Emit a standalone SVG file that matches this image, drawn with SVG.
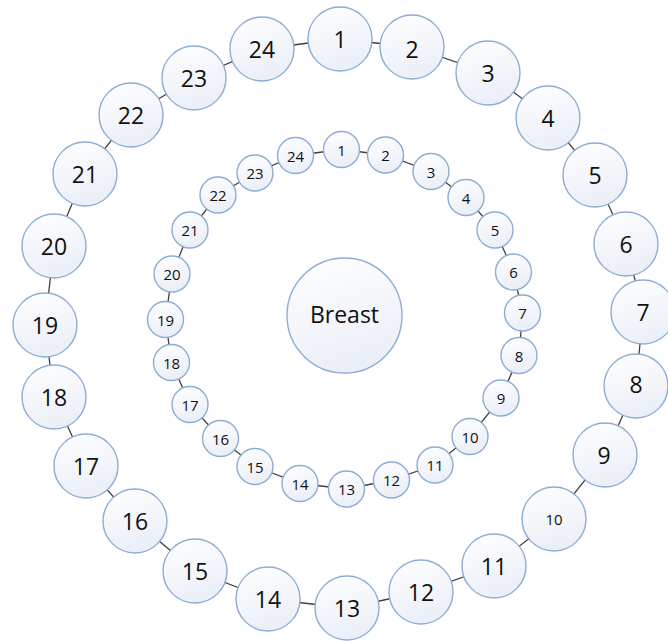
<svg xmlns="http://www.w3.org/2000/svg" width="668" height="641" viewBox="0 0 668 641">
<defs>
<linearGradient id="g" x1="0" y1="0" x2="0.3" y2="1">
<stop offset="0" stop-color="#ffffff"/>
<stop offset="1" stop-color="#ebeff7"/>
</linearGradient>
</defs>
<style>
.n circle{fill:url(#g);stroke:#8cadd4;stroke-width:1.4}
.n text{font-family:"Open Sans","Liberation Sans",sans-serif;fill:#111111;text-anchor:middle;dominant-baseline:central}
.o text{font-size:23px}
.i text{font-size:15px}
.c path{fill:none;stroke:#404040;stroke-width:1.3}
</style>
<rect width="668" height="641" fill="#ffffff"/>
<g id="connectors" class="c">
<path d="M340,39 L412,47 L488,73 L548,118 L595,175 L626,244 L643,312 L636,386 L605,455 L554,519 L494,566 L421,592 L347,608 L268,599 L195,571 L135,521 L86,466 L54,397 L45,325 L54,246 L85,174 L131,115 L194,78 L262,49 Z"/>
<path d="M341.5,149.5 L385.5,155 L431,171.5 L466,197.5 L495,230 L513.5,272 L522.5,313 L519,355.5 L501,398 L470,436.5 L435,465 L391.5,480 L346.5,489 L300,483.5 L255,466.5 L220.5,438.5 L190,404.5 L171.5,362.5 L165.5,319.5 L172,274 L190,230 L218,195 L255,173 L295.5,155.5 Z"/>
</g>
<g id="breast" class="n"><circle cx="344.5" cy="315.5" r="57.5"/><text x="344.5" y="314" style="font-size:23px">Breast</text></g>
<g id="o1" class="n o"><circle cx="340" cy="39" r="32"/><text x="340" y="39">1</text></g>
<g id="o2" class="n o"><circle cx="412" cy="47" r="32"/><text x="412" y="49">2</text></g>
<g id="o3" class="n o"><circle cx="488" cy="73" r="32"/><text x="488" y="73">3</text></g>
<g id="o4" class="n o"><circle cx="548" cy="118" r="32"/><text x="548" y="118">4</text></g>
<g id="o5" class="n o"><circle cx="595" cy="175" r="32"/><text x="595" y="175">5</text></g>
<g id="o6" class="n o"><circle cx="626" cy="244" r="32"/><text x="626" y="244">6</text></g>
<g id="o7" class="n o"><circle cx="643" cy="312" r="32"/><text x="643" y="312">7</text></g>
<g id="o8" class="n o"><circle cx="636" cy="386" r="32"/><text x="636" y="384">8</text></g>
<g id="o9" class="n o"><circle cx="605" cy="455" r="32"/><text x="604" y="455">9</text></g>
<g id="o10" class="n o"><circle cx="554" cy="519" r="32"/><text x="554" y="519" style="font-size:15px">10</text></g>
<g id="o11" class="n o"><circle cx="494" cy="566" r="32"/><text x="494" y="566">11</text></g>
<g id="o12" class="n o"><circle cx="421" cy="592" r="32"/><text x="421" y="592">12</text></g>
<g id="o13" class="n o"><circle cx="347" cy="608" r="32"/><text x="347" y="608">13</text></g>
<g id="o14" class="n o"><circle cx="268" cy="599" r="32"/><text x="268" y="599">14</text></g>
<g id="o15" class="n o"><circle cx="195" cy="571" r="32"/><text x="195" y="571">15</text></g>
<g id="o16" class="n o"><circle cx="135" cy="521" r="32"/><text x="135" y="521">16</text></g>
<g id="o17" class="n o"><circle cx="86" cy="466" r="32"/><text x="86" y="466">17</text></g>
<g id="o18" class="n o"><circle cx="54" cy="397" r="32"/><text x="54" y="397">18</text></g>
<g id="o19" class="n o"><circle cx="45" cy="325" r="32"/><text x="45" y="325">19</text></g>
<g id="o20" class="n o"><circle cx="54" cy="246" r="32"/><text x="54" y="246">20</text></g>
<g id="o21" class="n o"><circle cx="85" cy="174" r="32"/><text x="85" y="174">21</text></g>
<g id="o22" class="n o"><circle cx="131" cy="115" r="32"/><text x="131" y="115">22</text></g>
<g id="o23" class="n o"><circle cx="194" cy="78" r="32"/><text x="194" y="78">23</text></g>
<g id="o24" class="n o"><circle cx="262" cy="49" r="32"/><text x="262" y="49">24</text></g>
<g id="i1" class="n i"><circle cx="341.5" cy="149.5" r="18"/><text x="341.5" y="149.5">1</text></g>
<g id="i2" class="n i"><circle cx="385.5" cy="155" r="18"/><text x="385.5" y="155">2</text></g>
<g id="i3" class="n i"><circle cx="431" cy="171.5" r="18"/><text x="431" y="171.5">3</text></g>
<g id="i4" class="n i"><circle cx="466" cy="197.5" r="18"/><text x="466" y="197.5">4</text></g>
<g id="i5" class="n i"><circle cx="495" cy="230" r="18"/><text x="495" y="230">5</text></g>
<g id="i6" class="n i"><circle cx="513.5" cy="272" r="18"/><text x="513.5" y="272">6</text></g>
<g id="i7" class="n i"><circle cx="522.5" cy="313" r="18"/><text x="522.5" y="313">7</text></g>
<g id="i8" class="n i"><circle cx="519" cy="355.5" r="18"/><text x="519" y="355.5">8</text></g>
<g id="i9" class="n i"><circle cx="501" cy="398" r="18"/><text x="501" y="398">9</text></g>
<g id="i10" class="n i"><circle cx="470" cy="436.5" r="18"/><text x="470" y="436.5">10</text></g>
<g id="i11" class="n i"><circle cx="435" cy="465" r="18"/><text x="435" y="465">11</text></g>
<g id="i12" class="n i"><circle cx="391.5" cy="480" r="18"/><text x="391.5" y="480">12</text></g>
<g id="i13" class="n i"><circle cx="346.5" cy="489" r="18"/><text x="346.5" y="489">13</text></g>
<g id="i14" class="n i"><circle cx="300" cy="483.5" r="18"/><text x="300" y="483.5">14</text></g>
<g id="i15" class="n i"><circle cx="255" cy="466.5" r="18"/><text x="255" y="466.5">15</text></g>
<g id="i16" class="n i"><circle cx="220.5" cy="438.5" r="18"/><text x="220.5" y="438.5">16</text></g>
<g id="i17" class="n i"><circle cx="190" cy="404.5" r="18"/><text x="190" y="404.5">17</text></g>
<g id="i18" class="n i"><circle cx="171.5" cy="362.5" r="18"/><text x="171.5" y="362.5">18</text></g>
<g id="i19" class="n i"><circle cx="165.5" cy="319.5" r="18"/><text x="165.5" y="319.5">19</text></g>
<g id="i20" class="n i"><circle cx="172" cy="274" r="18"/><text x="172" y="274">20</text></g>
<g id="i21" class="n i"><circle cx="190" cy="230" r="18"/><text x="190" y="230">21</text></g>
<g id="i22" class="n i"><circle cx="218" cy="195" r="18"/><text x="218" y="195">22</text></g>
<g id="i23" class="n i"><circle cx="255" cy="173" r="18"/><text x="255" y="173">23</text></g>
<g id="i24" class="n i"><circle cx="295.5" cy="155.5" r="18"/><text x="295.5" y="155.5">24</text></g>
</svg>
